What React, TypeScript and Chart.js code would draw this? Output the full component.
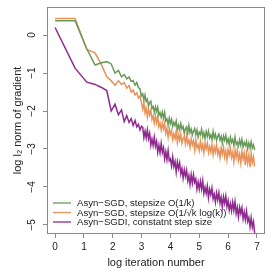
import React, { useEffect, useRef } from "react";
import { Chart, registerables } from "chart.js";

Chart.register(...registerables);

// log iteration number
const EARLY_X = [0, 0.693, 1.099, 1.386, 1.609, 1.792, 1.946, 2.079, 2.197, 2.303, 2.398, 2.485, 2.565, 2.639, 2.708, 2.773, 2.833, 2.89, 2.944, 2.996];
const LATE_X = [3.04, 3.08, 3.12, 3.16, 3.2, 3.24, 3.28, 3.32, 3.36, 3.4, 3.44, 3.48, 3.52, 3.56, 3.6, 3.64, 3.68, 3.72, 3.76, 3.8, 3.84, 3.88, 3.92, 3.96, 4.0, 4.04, 4.08, 4.12, 4.16, 4.2, 4.24, 4.28, 4.32, 4.36, 4.4, 4.44, 4.48, 4.52, 4.56, 4.6, 4.64, 4.68, 4.72, 4.76, 4.8, 4.84, 4.88, 4.92, 4.96, 5.0, 5.04, 5.08, 5.12, 5.16, 5.2, 5.24, 5.28, 5.32, 5.36, 5.4, 5.44, 5.48, 5.52, 5.56, 5.6, 5.64, 5.68, 5.72, 5.76, 5.8, 5.84, 5.88, 5.92, 5.96, 6.0, 6.04, 6.08, 6.12, 6.16, 6.2, 6.24, 6.28, 6.32, 6.36, 6.4, 6.44, 6.48, 6.52, 6.56, 6.6, 6.64, 6.68, 6.72, 6.76, 6.8, 6.84, 6.88, 6.92];

// Asyn-SGD, stepsize O(1/k)
const GREEN = [
  0.38, 0.38, -0.36, -0.79, -0.73, -0.7, -0.76, -1.0, -0.93, -1.1, -1.04, -1.15, -1.1, -1.22, -1.2, -1.32, -1.25, -1.38, -1.42, -1.6,
  -1.55, -1.71, -1.58, -1.75, -1.69, -1.87, -1.77, -1.74, -1.93, -1.88,
  -2.03, -1.89, -2.01, -1.9, -2.11, -2.04, -2.17, -2.03, -2.19, -2.04,
  -2.26, -2.21, -2.36, -2.19, -2.33, -2.22, -2.41, -2.3, -2.38, -2.26,
  -2.49, -2.37, -2.49, -2.33, -2.47, -2.41, -2.59, -2.47, -2.42, -2.59,
  -2.38, -2.57, -2.48, -2.63, -2.53, -2.46, -2.62, -2.5, -2.69, -2.56,
  -2.62, -2.48, -2.68, -2.57, -2.72, -2.54, -2.67, -2.53, -2.71, -2.63,
  -2.75, -2.54, -2.71, -2.61, -2.77, -2.67, -2.61, -2.77, -2.67, -2.84,
  -2.66, -2.77, -2.64, -2.84, -2.74, -2.88, -2.69, -2.83, -2.75, -2.91,
  -2.69, -2.88, -2.82, -2.92, -2.76, -2.9, -2.75, -2.94, -2.83, -2.91,
  -2.8, -2.99, -2.84, -2.97, -2.81, -2.97, -2.89, -3.03
];

// Asyn-SGD, stepsize O(1/sqrt(k) log(k))
const ORANGE = [
  0.44, 0.44, -0.38, -0.47, -0.78, -1.1, -1.2, -1.32, -1.2, -1.3, -1.25, -1.4, -1.33, -1.5, -1.45, -1.58, -1.52, -1.66, -1.6, -1.78,
  -1.95, -1.79, -2.05, -1.93, -2.15, -1.95, -2.1, -1.98, -2.22, -2.13,
  -2.32, -2.13, -2.31, -2.14, -2.41, -2.32, -2.5, -2.32, -2.47, -2.32,
  -2.59, -2.46, -2.69, -2.46, -2.62, -2.52, -2.75, -2.6, -2.73, -2.54,
  -2.83, -2.62, -2.77, -2.61, -2.85, -2.73, -2.67, -2.87, -2.64, -2.86,
  -2.77, -2.96, -2.73, -2.89, -2.78, -3.03, -2.76, -2.97, -2.89, -3.04,
  -2.79, -3.01, -2.88, -3.1, -2.85, -2.99, -2.84, -3.09, -2.94, -3.08,
  -2.88, -3.15, -2.95, -3.08, -2.88, -3.14, -3.02, -3.23, -2.97, -3.13,
  -2.95, -3.21, -3.05, -3.29, -3.02, -3.16, -2.99, -3.22, -3.08, -3.34,
  -3.04, -3.22, -3.01, -3.3, -3.14, -3.37, -3.06, -3.27, -3.11, -3.43,
  -3.12, -3.37, -3.16, -3.48, -3.11, -3.36, -3.21, -3.46
];

// Asyn-SGDI, constant step size
const PURPLE = [
  0.2, -0.87, -1.24, -1.3, -1.38, -1.46, -2.0, -1.82, -2.1, -1.97, -2.28, -2.12, -2.3, -2.2, -2.38, -2.25, -2.42, -2.35, -2.5, -2.4,
  -2.43, -2.7, -2.53, -2.71, -2.5, -2.73, -2.59, -2.9, -2.74, -2.91,
  -2.69, -2.93, -2.8, -3.09, -2.9, -3.1, -2.85, -3.09, -2.97, -3.26,
  -3.07, -3.28, -3.04, -3.31, -3.26, -3.45, -3.21, -3.46, -3.33, -3.61,
  -3.34, -3.52, -3.37, -3.66, -3.52, -3.77, -3.55, -3.72, -3.56, -3.84,
  -3.7, -3.94, -3.68, -3.9, -3.68, -3.88, -3.79, -4.06, -3.87, -4.06,
  -3.85, -4.06, -3.84, -4.17, -4.01, -4.17, -3.98, -4.29, -4.06, -4.2,
  -4.03, -4.31, -4.19, -4.4, -4.16, -4.34, -4.15, -4.43, -4.27, -4.53,
  -4.26, -4.43, -4.24, -4.52, -4.36, -4.61, -4.44, -4.63, -4.4, -4.62,
  -4.39, -4.7, -4.54, -4.79, -4.54, -4.7, -4.55, -4.84, -4.66, -4.87,
  -4.64, -4.91, -4.81, -5.05, -4.81, -5.06, -4.92, -5.21
];

const X_TICKS = [0, 1, 2, 3, 4, 5, 6, 7];
const Y_TICKS = [0, -1, -2, -3, -4, -5];
const LEGEND_LABELS = [
  "Asyn\u2212SGD, stepsize O(1/k)",
  "Asyn\u2212SGD, stepsize O(1/\u221Ak log(k))",
  "Asyn\u2212SGDI, constatnt step size",
];
const COLORS = ["#689a5a", "#e8935b", "#8e2a8e"];

const FONT = "'Liberation Sans', Arial, Helvetica, sans-serif";
const BOX_COLOR = "#8a8a8a";
const TEXT_COLOR = "#222222";

const ALL_X = [...EARLY_X, ...LATE_X];
const toPoints = (ys: number[]) => ys.map((y, i) => ({ x: ALL_X[i], y }));

const fmtMinus = (v: number) => (v < 0 ? "\u2212" + String(-v) : String(v));

const rPlugin = {
  id: "rstyle",
  afterDraw(chart: any) {
    const { ctx, chartArea, scales } = chart;
    ctx.save();
    // box
    ctx.strokeStyle = BOX_COLOR;
    ctx.lineWidth = 1;
    ctx.strokeRect(
      Math.round(chartArea.left) + 0.5,
      Math.round(chartArea.top) + 0.5,
      Math.round(chartArea.right - chartArea.left) - 1,
      Math.round(chartArea.bottom - chartArea.top) - 1
    );
    // y tick labels (rotated, R style)
    ctx.fillStyle = TEXT_COLOR;
    ctx.font = `10px ${FONT}`;
    ctx.textAlign = "center";
    ctx.textBaseline = "middle";
    Y_TICKS.forEach((v) => {
      const y = scales.y.getPixelForValue(v);
      ctx.save();
      ctx.translate(chartArea.left - 15, y);
      ctx.rotate(-Math.PI / 2);
      ctx.fillText(fmtMinus(v), 0, 0);
      ctx.restore();
    });
    // legend
    const x0 = chartArea.left + 6;
    const rows = [chartArea.bottom - 31, chartArea.bottom - 21.5, chartArea.bottom - 12];
    ctx.textAlign = "left";
    ctx.textBaseline = "middle";
    ctx.font = `9.6px ${FONT}`;
    LEGEND_LABELS.forEach((lab, i) => {
      ctx.strokeStyle = COLORS[i];
      ctx.lineWidth = 1.3;
      ctx.beginPath();
      ctx.moveTo(x0, rows[i]);
      ctx.lineTo(x0 + 18, rows[i]);
      ctx.stroke();
      ctx.fillStyle = TEXT_COLOR;
      ctx.fillText(lab, x0 + 24, rows[i] + 0.5);
    });
    ctx.restore();
  },
};

export default function App() {
  const ref = useRef<HTMLCanvasElement>(null);
  useEffect(() => {
    if (!ref.current) return;
    const chart = new Chart(ref.current, {
      type: "line",
      data: {
        datasets: [
          { label: LEGEND_LABELS[0], data: toPoints(GREEN), borderColor: COLORS[0], borderWidth: 1.5, pointRadius: 0, tension: 0, fill: false },
          { label: LEGEND_LABELS[1], data: toPoints(ORANGE), borderColor: COLORS[1], borderWidth: 1.5, pointRadius: 0, tension: 0, fill: false },
          { label: LEGEND_LABELS[2], data: toPoints(PURPLE), borderColor: COLORS[2], borderWidth: 1.5, pointRadius: 0, tension: 0, fill: false },
        ],
      },
      options: {
        animation: false,
        responsive: false,
        maintainAspectRatio: false,
        layout: { padding: { top: 7, right: 8, left: 0, bottom: 0 } },
        plugins: { legend: { display: false }, tooltip: { enabled: false } },
        scales: {
          x: {
            type: "linear",
            min: -0.28,
            max: 7.28,
            afterBuildTicks: (s: any) => { s.ticks = X_TICKS.map((v) => ({ value: v })); },
            afterFit: (s: any) => { s.height = 39; },
            grid: { drawOnChartArea: false, drawTicks: true, tickLength: 4, color: BOX_COLOR },
            border: { display: false },
            ticks: { color: TEXT_COLOR, font: { size: 10, family: FONT }, padding: 3, maxRotation: 0, autoSkip: false },
            title: { display: true, text: "log iteration number", color: TEXT_COLOR, font: { size: 11, family: FONT }, padding: { top: 3, bottom: 3 } },
          },
          y: {
            type: "linear",
            min: -5.24,
            max: 0.74,
            afterBuildTicks: (s: any) => { s.ticks = Y_TICKS.map((v) => ({ value: v })); },
            afterFit: (s: any) => { s.width = 47; },
            grid: { drawOnChartArea: false, drawTicks: true, tickLength: 4, color: BOX_COLOR },
            border: { display: false },
            ticks: { display: false },
            title: { display: true, text: "log l\u2082 norm of gradient", color: TEXT_COLOR, font: { size: 11, family: FONT }, padding: { top: 11, bottom: 0 } },
          },
        },
      },
      plugins: [rPlugin],
    });
    return () => chart.destroy();
  }, []);
  return (
    <div style={{ position: "fixed", left: 0, top: 0, width: 273, height: 273, background: "#fff" }}>
      <canvas ref={ref} width={273} height={273} style={{ width: 273, height: 273 }} />
    </div>
  );
}
